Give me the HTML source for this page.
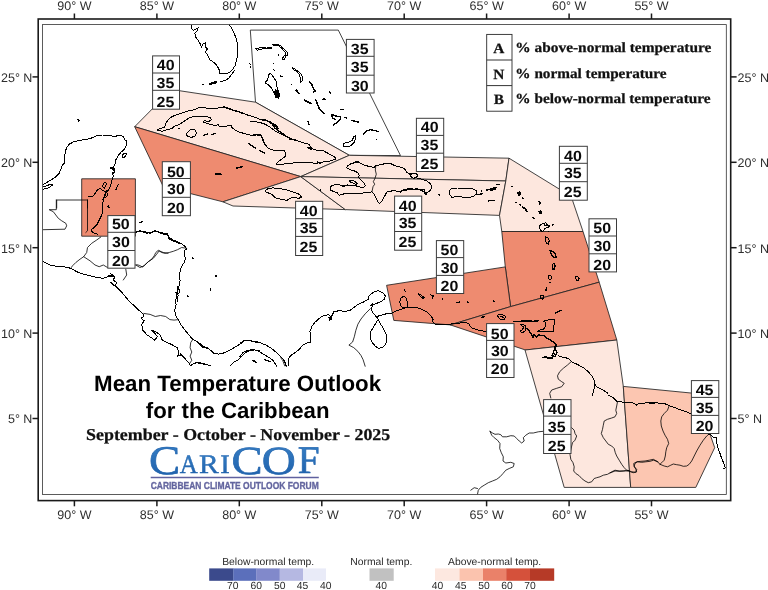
<!DOCTYPE html>
<html lang="en">
<head>
<meta charset="utf-8">
<title>Mean Temperature Outlook for the Caribbean</title>
<style>
html,body{margin:0;padding:0;background:#fff;}
body{width:768px;height:590px;overflow:hidden;}
svg{display:block;}
text{text-rendering:geometricPrecision;}
.ax{font-family:"Liberation Sans",Arial,sans-serif;font-size:12.5px;fill:#2e2e2e;}
.num{font-family:"Liberation Sans",Arial,sans-serif;font-weight:bold;fill:#0a0a0a;}
.lg{font-family:"Liberation Sans",Arial,sans-serif;font-size:10.35px;fill:#2a2a2a;}
.ser{font-family:"Liberation Serif","Times New Roman",serif;font-weight:bold;fill:#111;stroke:#111;stroke-width:0.25px;}
.ttl{font-family:"Liberation Sans",Arial,sans-serif;font-weight:bold;fill:#000;text-anchor:middle;}
.coast{shape-rendering:crispEdges;fill:none;stroke:#000;stroke-width:1;stroke-linejoin:round;stroke-linecap:round;}
.reg{stroke:#222;stroke-width:0.85;stroke-linejoin:round;}
</style>
</head>
<body>
<svg width="768" height="590" viewBox="0 0 768 590">
<rect x="0" y="0" width="768" height="590" fill="#fff"/>
<defs><clipPath id="mapclip"><rect x="42.5" y="24.6" width="683.8" height="469.8"/></clipPath></defs>
<g clip-path="url(#mapclip)">
<g class="reg">
<polygon points="250.3,30.1 338.3,30.1 400.5,155.6 349.3,155.3 255.5,102.2" fill="none"/>
<polygon points="134.7,126.7 171.5,89.5 255.5,102.2 349.3,155.3 300.7,176.6" fill="#fde7de"/>
<polygon points="134.7,126.7 300.7,176.6 222.9,201.8 163.3,186.7" fill="#ee8b70"/>
<polygon points="300.7,176.6 222.9,201.8 233,206 345.3,209.6" fill="#fde7de"/>
<polygon points="300.7,176.6 349.3,155.3 509,158.2 505.8,181" fill="#fde7de"/>
<polygon points="300.7,176.6 505.8,181 499.5,215.4 345.3,209.6" fill="#fde7de"/>
<polygon points="81.7,178.8 135.4,178.8 135.4,236.2 81.7,236.2" fill="#ee8b70"/>
<polygon points="509,158.2 559.2,189 572.5,200.3 583,231.5 501.8,231.5 499.5,215.4 505.8,181" fill="#fde7de"/>
<polygon points="501.8,231.5 583,231.5 599.2,282.2 510.6,306.6 505.3,266.9" fill="#ee8b70"/>
<polygon points="386.6,285.3 505.3,266.9 510.6,306.6 450.3,324.9 393.8,320.4" fill="#ee8b70"/>
<polygon points="450.3,324.9 510.6,306.6 599.2,282.2 616.8,340 525.5,350" fill="#ee8b70"/>
<polygon points="525,350 616.8,340 623.3,386.4 630.7,487.4 564.2,487.4" fill="#fde7de"/>
<polygon points="623.3,386.4 696,393.5 714.7,447.7 695.8,487.4 630.7,487.4" fill="#fcc6b1"/>
</g>
<g class="coast">
<path d="M192,25.3 191.3,27.7 193.3,30.7 195.8,29 198.3,27.7 196.7,31.5 194.7,33.2 195.8,37.3 198.3,40.7 200.3,44 201.3,47.3 203.3,43.7 205.3,42.7 205,46.5 207.5,49 205,52 207.5,54.8 209.7,59.8 213.3,62 217,65.7 219.2,69.8 220,73.7 225,74 229.2,72.7 232.5,69.8 235,65.7 236.7,59.8 238,52.3 237.8,45.7 236.3,39 234.2,33.2 231.7,28.2 229.2,24.8"/>
<path d="M209.2,84 212.5,82.3 215.8,81.5 217,82.7 213.3,83.7 209.7,84.5Z" fill="#000"/>
<path d="M220,81.8 224.7,80.7 228.7,78.2 231.7,74.3 234.2,70.7"/>
<path d="M202.7,84.2 203.3,84.5"/>
<path d="M255.3,48.7 257.5,50.3 261.7,49 266.7,48.7 271.7,49 271.3,47.3 266.7,47 262,47.3Z"/>
<path d="M272.5,44.8 276.7,44 280.8,45.7 284.2,49 286.7,51.5 288,54.8 285.8,55.7 284.7,59 283,59.8 282,58.7 285,54.8 285,52 281.7,48.2 278.3,45.7 274.2,45.7Z"/>
<path d="M269.2,73.7 271.3,74 274.2,78.2 276.7,82.3 277,87.3 278.3,90.7 279.7,94.8 278.3,98.2 275.8,97.3 274.2,93.2 271.7,88.2 268.3,84.8 265,82.7 267,80.7 268.3,77.3Z"/>
<path d="M275.3,89.8 278.3,90.7 279.7,94.8 278.3,98.2 275.8,97.3 274.2,93.2Z" fill="#000"/>
<path d="M292.5,67.7 295,69 298.3,71.5 301.3,74 302.5,77.3 302,81.5 300.8,82.3 300.3,78.2 299.2,74 295.8,71 293,69.3Z"/>
<path d="M278,54.7 278.7,55.2"/>
<path d="M273.7,63.5 274.2,64"/>
<path d="M273.8,69.7 274.5,70.2"/>
<path d="M280,76 282.7,76.7" stroke-width="1.2"/>
<path d="M291.5,84.7 292,85.2"/>
<path d="M296.3,89.5 299.2,93.7"/>
<path d="M304.2,99.8 308,102" stroke-width="1.2"/>
<path d="M249.8,63.8 250.3,64.3"/>
<path d="M250.2,66.8 250.7,67.3"/>
<path d="M156.7,130 160,128.7 164.7,127 165.8,123.3 168.3,119.7 171.7,116.7 176.7,114.7 181.7,113 186.7,111.3 192.5,110.3 198.3,108 203.3,107.7 208.3,108.3 215,108.7 220,107.5 224.2,106.7 228.3,108 233.3,110 238.3,111.3 243.3,113.3 248.3,115.3 253.3,116.7 256.7,118 260.8,120 265,119.7 270,121.7 274.2,124.2 278,126.7"/>
<path d="M156.7,130 159.2,130.8 162.5,131.3 165.8,130 169.2,129.2 172.5,128 175,125.8 178.3,125 182.5,122.5 185.8,120 190,117.5 194.2,116.3 200,116 205.8,116.3 210,117.5 211.7,119.7 209.2,121.3 204.2,120.8 203,122 206.7,123.3 210.8,124.7 215,125.3 218.3,124.7 219.7,126.7 223.3,127 227.5,125.8 230.8,125 232,127.5 235,130 238.3,131.7 242.5,133 246.7,134.2 251.7,135.3 256.7,135 260.3,135.3 262.5,138.3 263.3,141.7 265,145 268.3,148.3 272.5,150 278,150.3"/>
<path d="M185.8,135 187.5,132.5 190,130 193.7,129.3 195.8,130.8 196.3,133.7 194.7,136.3 191.7,137.3 188.7,136.7Z"/>
<path d="M203.3,135.3 207.5,134.2" stroke-width="1.38"/>
<path d="M212,134.7 215.3,133.3" stroke-width="1.38"/>
<path d="M248.3,143.3 251.7,145.8 255.8,148.3" stroke-width="1.4"/>
<path d="M259.2,150.3 265,153" stroke-width="1.38"/>
<path d="M215.3,173.7 220.8,174.2" stroke-width="1.62"/>
<path d="M236.7,168 242.5,166.7" stroke-width="1.38"/>
<path d="M179,128.5 179.5,128.8"/>
<path d="M223.3,107 228.3,108.3 233.3,110.3 238.3,111.7 243.3,113.7" stroke-width="1.34"/>
<path d="M259.2,119.3 265,120 270,122.5 274.2,125.3 278,128.7" stroke-width="1.34"/>
<path d="M250,121.3 255,121.7 260,122.5 265,124.2 270,127 275,130.8 280,133.7 285,135.8 290,138.3 295,140 300,141.7 305,143.3 309.2,144.2 310.8,147.5 314.2,149.7 318.3,150.3 323.3,150.8 327.5,153 331.7,155.3 335.3,157.5 335.8,159.2 332.5,160.3 328.3,161.7 323.3,162 318.3,163 313.3,163 308.3,162.7 303.3,162.3 298.3,162.7 293.3,163 288.3,163.3 283.3,164.2 278.7,164.7 276.3,164.2 278.3,161.7 282.5,158.7 285.3,156.3 285.8,153.3 284.2,150.8 280,150.3 275,150.3 270.8,149.7 267.5,147.5 265,144.2 263.3,140 262,136.7 260,134.7 256.7,134.3 253.3,135 250,135.8"/>
<path d="M259.2,119.2 266.7,120.8 271.7,123.3 275,128.3 280,131.7 285,135" stroke-width="1.38"/>
<path d="M290,139.2 296.7,140.3" stroke-width="1.34"/>
<path d="M308.3,147.5 310.8,149.2" stroke-width="1.7"/>
<path d="M317.5,162 320,163" stroke-width="1.54"/>
<path d="M304.2,100 307.5,102 311.7,103.7" stroke-width="1.38"/>
<path d="M315.8,100 317.5,104.2 319.2,108.3 322.5,111.7 324.2,113.3" stroke-width="1.46"/>
<path d="M323.3,98.3 325,99.2" stroke-width="1.34"/>
<path d="M340.8,109.2 343.3,109.7" stroke-width="1.3"/>
<path d="M331.7,114.2 335,115.8 340,116.7 340.8,118.3 338.3,120.8 335.8,123.3 333.3,125.3" stroke-width="1.34"/>
<path d="M331.7,114.2 332.5,118.3 335,119.2" stroke-width="1.3"/>
<path d="M345,117.5 346.7,118.3" stroke-width="1.3"/>
<path d="M351.7,120.3 355,121.3 358.3,122" stroke-width="1.46"/>
<path d="M343.3,144.2 345.8,142.5 349.2,142 352.5,140 353.7,136.3 355.3,135.8 355.3,139.2 354.2,142.5 350.8,145.8 346.7,146.7 343.7,146.3Z"/>
<path d="M363.3,134.2 365.8,131.3 370,129.7 374.2,130.3 378,131.7" stroke-width="1.34"/>
<path d="M308,121.7 309.2,125" stroke-width="1.2"/>
<path d="M376.5,139.5 377,140"/>
<path d="M309.2,82 311.7,84.2 313.3,88.3 315.8,91.3 313.3,92" stroke-width="1.34"/>
<path d="M329.2,92 330.8,93.3" stroke-width="1.38"/>
<path d="M291.7,84.2 292,84.7"/>
<path d="M295,90 298.3,93.3" stroke-width="1"/>
<path d="M304.2,99.7 307.5,101.7 310.8,103.3" stroke-width="1.38"/>
<path d="M322.5,99.2 325,99.7" stroke-width="1.2"/>
<path d="M340.8,109.2 343.3,109.7" stroke-width="1.2"/>
<path d="M43,184.7 47.5,182 51.7,179.7 55.8,176.7 59.2,173.3 61.3,168.3 62.5,165 65,162.5 64.7,156.7 65.3,151.7 66.7,147.5 69.2,144.2 73.3,142 79.2,140.3 85,139.7 90.8,138.3 96.7,135.8 102.5,135 109.2,135.3 114.2,136.7 120,135 123.3,136.7 125,140 127,140.8 126.7,145 124.2,149.2 120.8,152.5 118,155.8 115.8,160 115,164.2 113.3,167.5 110.8,168.3 113.3,170 115,171.7 112.5,173 113.3,175.8 112.5,178.3 111.7,181.7 110,186.7 108.3,190.8"/>
<path d="M43,187 46.7,185.8 50.3,184.2 52.5,185 50,187 46.7,188.7 43,189.2"/>
<path d="M122,155 125,153 126.7,153.7 125,156.7 123,158Z"/>
<path d="M77.5,119.2 79.2,120.3 78.7,121.7" stroke-width="1.3"/>
<path d="M105,181.7 103.3,184.2 102.5,186.7 104.2,188.3 105.8,185.8 106.3,183.3Z"/>
<path d="M88.3,196.7 90,197 93.3,195.8 95.8,192.5 97.5,189.7 100,188.3 103.3,190.8 106.7,191.7 107.5,195 105.8,197.5"/>
<path d="M56.7,208 56.7,200 87.5,200 87.5,208" stroke-width="0.8"/>
<path d="M115.8,190 117.5,185.8 118.3,184.7" stroke-width="1.2"/>
<path d="M110.8,168 114.7,168.7 113.3,170.3 115,172 112.7,173.3" stroke-width="1.34"/>
<path d="M56.3,199.7 56.3,209.7 49.2,209.7 53.3,211.7 55.8,215 58.3,218.3 61.7,220.8 65.8,223.3 66.7,225.8 65,229.2 43.3,229.7" stroke-width="0.8"/>
<path d="M87.5,199.7 87.5,230.8 85.8,232.5" stroke-width="0.8"/>
<path d="M106.7,190 105,195 103.3,200 102.5,205 103,210 101.7,215 99.2,220 96.7,225 93.3,228.3 90.8,230 93,232.7 96.7,233.7 98,235"/>
<path d="M103,200 104.2,196.7 105.8,193.3 107.5,190.8" stroke-width="1.38"/>
<path d="M107.5,206.7 108.7,205.3 109.2,207.5Z" fill="#000"/>
<path d="M135.3,232.5 140,230.8 145,231.7 150,233.3 155,230.8 160,232.5 168,233.7"/>
<path d="M100.8,237 96.7,240 91.7,243.3 87.5,247.5 86.7,252.5 83.7,256.7 80,259.2 75.8,262.5 72.5,265.8 71.3,267.5" stroke-width="0.8"/>
<path d="M83.7,256.7 90,260.8 95,265 99.2,266.7 103.3,265 107.5,267.5" stroke-width="0.8"/>
<path d="M43.3,261.7 50,265 56.7,266.3 65,267 70.8,268.3 76.7,271.7 83.3,274.2 90,275.8 96.7,277.5 103.3,278.3 108.3,276.7 111.7,275 110,273.3 115,276.7 113.3,280 116.7,282.5 115,285.8 118.3,288"/>
<path d="M123.3,280 126.7,275 125.8,269.2" stroke-width="0.8"/>
<path d="M135.8,265 140,267.5 144.2,265.8 148.3,261.7 153.3,258.3 156.7,254.2 159.2,250.8 163.3,252.5 168,253.3" stroke-width="0.8"/>
<path d="M140,222.5 141.7,221.7" stroke-width="1.34"/>
<path d="M162.5,233.7 165,234.2" stroke-width="1.46"/>
<path d="M108.3,275.8 113.3,276.7" stroke-width="1.38"/>
<path d="M135.8,232 139.2,230.8 143.3,232 147.5,233.3 151.7,232 155,230.8 159.2,232.5 163.3,233.7 167.5,235 170,238 173.3,240 177.5,241.7 180.8,243.3 183.3,245 185.8,247.5 186.7,248.7 184.2,250.8 184.7,255 185.3,259.2 184.2,262.5 182,265.8 180.3,270 179.7,275 179.5,280"/>
<path d="M168.3,238 173.3,240.8 180,243.3" stroke-width="1.54"/>
<path d="M160.8,233.3 165,234.3" stroke-width="1.46"/>
<path d="M186.7,248.3 181.7,247.5 177.5,249.7 173.3,251.3 169.2,252.5 165,253.3 161.7,252.5 158.3,250.3 155.8,252.5 154.2,255.8 151.7,259.2 148.3,261.7 145,264.7 142.5,267 139.2,265.3 136.7,264.7 135.8,265" stroke-width="0.8"/>
<path d="M140,222.7 142,221.8" stroke-width="1.38"/>
<path d="M192.7,257.7 193.3,258.7" stroke-width="1.38"/>
<path d="M187.7,296 188.3,296.7" stroke-width="1.3"/>
<path d="M215.5,275.5 216.3,276.3" stroke-width="1.46"/>
<path d="M210.2,289 210.8,290.3" stroke-width="1.38"/>
<path d="M177.5,286.7 179.2,290 180,292.5 178,293.3" stroke-width="1"/>
<path d="M110.8,282.5 112.9,284.6 116.7,287.3 121.9,292.5 127.1,298.8 132.3,304 137.5,309.2 142.8,313.4 143.8,316.5 140.7,318 144.2,320.7 141.7,324.8 142.8,330.1 146.9,334.7 151.7,338 154.7,340.1 157.4,336.7 154.7,333.2 151.7,330.1 156.3,332.1 160.5,335.3 161.5,339.4 166.3,342.2 172,344.7 177.2,347.8 178.8,352 177.6,356.1 182.4,355.5 185.5,359.3 188.7,362.4 190.7,365.9"/>
<path d="M143.8,313.4 150.1,314.4 155.3,316.5 160.5,315.5 165.7,316.5 169.9,319.6 174.1,320.1 178.2,319.6" stroke-width="0.8"/>
<path d="M180.3,280 179.3,285.2 177.2,290.4 178.2,295.6 175.5,299.8 176.1,305 174.7,310.2 175.5,315.5 178.2,319.6 180.3,323.8 183.4,328 186.6,332.1 189.7,335.9 192.8,339.4 197,341.5 200.1,343.6 204.3,346.8 208.5,348.8 211.6,350.9 213.7,353.4 218.9,354.1 225.2,352.6 230.4,349.9 235.6,346.8 240.8,343.6 243.9,340.5 249.1,340.5 255.4,341.5 260,342.6"/>
<path d="M192.8,339.4 190.7,342.6 190.1,347.8 191.8,352 190.1,356.1 191.8,360.3 189.7,363.4" stroke-width="0.8"/>
<path d="M198,342.6 202.2,346.8 208.5,348.4" stroke-width="1.34"/>
<path d="M190.7,365.5 193.9,363.4 198,362.4 202.2,363.4 206.4,364.5 210.6,365.9"/>
<path d="M230.4,365.5 233.5,362.4 237.7,360.3 241.8,356.1 245,353 249.1,350.9 254.4,349.9 260,350.5"/>
<path d="M253.3,360.3 256.4,362.4" stroke-width="1.3"/>
<path d="M210.1,289 211,290" stroke-width="1.3"/>
<path d="M187.6,295.4 188.4,296.1" stroke-width="1"/>
<path d="M176.1,292.5 177.6,300.9" stroke-width="1.34"/>
<path d="M180.3,354.1 183.4,357.2 185.5,359.3" stroke-width="1.38"/>
<path d="M198,363 203.3,363.9" stroke-width="1.34"/>
<path d="M240,343 244.2,340.9 249.4,340.5 254.6,342 260.9,343 266.1,345.1 271.3,348.2 275.5,351.8 279.6,355.5 282.8,358.7 284.8,361.8 286.3,366.4"/>
<path d="M289,366.4 288.4,361.8 289,357.6 292.1,354.5 295.3,352.4 299.4,349.3 302.6,345.1 306.8,343 310.5,342 310.9,336.8 309.9,331.5 312,326.3 315.1,322.1 319.3,318.4 323.4,315.5 328.7,314.8 331.8,318 329.3,320.1 331.8,315.9 333.9,311.7 339.1,310.7 344.3,311.3 349.5,310.7 353.7,307.5 357.9,304.4 363.1,302.3 368.3,299.2 369.3,295"/>
<path d="M240,356.6 243.1,352.4 248.3,350.3 253.6,349.3 258.8,351.4 264,354.5 269.2,357.6 273.4,360.7 276.5,366"/>
<path d="M265,359.7 270.2,361.8" stroke-width="1.38"/>
<path d="M252.9,360.3 254.2,361.4" stroke-width="1.3"/>
<path d="M280.7,357.6 282.8,360.7 284.8,366" stroke-width="0.8"/>
<path d="M370.4,308.6 365.2,313.8 361,319 357.9,324.2 355.8,330.5 354.3,336.8 352.6,342 348.9,345.1 353.7,347.6 357.9,351.4 361,355.5 363.1,359.7 365.2,366.4" stroke-width="0.8"/>
<path d="M328.7,317.6 331.4,319.6" stroke-width="1.38"/>
<path d="M370,295 374.2,291.7 378.3,290.8 382.5,292.5 385.3,295.8 384.2,299.2 380.8,301.7 376.7,303.3 372.5,305 371.3,309.2 373.3,313.3 376.3,316.7 378.3,319.2 375.8,323.3 373.3,327.5 370.8,331.7 370,336.7 371.7,341.7 375,345.8 378.3,348.3 382.5,347.5 385.8,344.2 386.7,339.2 386.3,334.2 384.2,330 381.7,325.8 379.2,321.7 378.3,319.2"/>
<path d="M376.3,316.7 381.7,315 386.7,313.7 391.7,313 396.7,310.8 402.5,308.7 407.5,307.5 413.3,307.5 418.3,308 423.3,310 427.5,312.5 430.3,315 432,318.3 432.5,321.7 435,324.2 440,324.7 445,324.7 450,324.2 455,323.3 460,323 465.8,322.5 468.3,323.3 470,325.8 472.5,328.3 476.7,329.7 481.7,330.8 485.8,331.7"/>
<path d="M402.5,308 400.3,305 399.7,301.7 400.8,298.3 403.3,296.3 405.8,297.5 407,300.8 408,304.2 407.5,307" stroke-width="1"/>
<path d="M402.5,307.3 407.5,307.3" stroke-width="1.46"/>
<path d="M404.2,290 405.3,291.3" stroke-width="1.2"/>
<path d="M418,293.3 420.8,295 424.2,297.5 423,298.3 420,296.3Z"/>
<path d="M430.8,295 433.3,295.8 432.5,298.3" stroke-width="1.2"/>
<path d="M442.3,298.5 442.8,299" stroke-width="1.3"/>
<path d="M456.7,302.5 460,302" stroke-width="1.38"/>
<path d="M467.3,301.8 468,302.3" stroke-width="1.3"/>
<path d="M493.2,300.7 493.7,301.2" stroke-width="1.3"/>
<path d="M481.7,317.5 484.2,316.7" stroke-width="1.46"/>
<path d="M432,317.5 433,320" stroke-width="1.38"/>
<path d="M372.5,303.3 370.8,305.8" stroke-width="1.3"/>
<path d="M347.5,165.8 350,164.2 355,162.5 358.3,162 360.8,163.7 365,165.3 370,166.7 374.2,167.5 375.8,165.8 380,164.7 385,163.7 390,163.3 394.2,165.3 398.3,166.7 402.5,167.5 405.3,169.7 406.7,172.5 410,174.2 411.3,173.3 415,173 417.5,175 416.7,177.5 413.3,178.3 411.3,176.7"/>
<path d="M347.5,165.8 346.7,168 350,169.7 354.2,170.8 357.5,172.5 359.2,175 358.7,177.5 361.7,180.8 364.2,183.3 365.3,185.8 363.3,187.5 360,187 355.8,185.8 351.7,185.3 347.5,185 343.7,185.8 340,185 335.8,184.7 332.5,185.3 330,187.5 330.3,190 334.2,191.7 337.5,193 339.2,195.3 341.7,194.7 344.2,193 348.3,193.7 353.3,193.7 358.3,193.3 363.3,193 368.3,192.5 372,191.7 374.2,194.2 375.8,197.5 377.5,200.8 379.2,203.7 381.7,201.7 383.3,198.3 385.3,195 386.7,192 390.8,191.3 394.2,190 397.5,191.7 401.7,190.8 404.7,189.2 410,188.7 415,189.2 420,190 424.2,191.7 428,193"/>
<path d="M349.7,180.8 352,180 355,181.7 357.5,183.7 356.7,184.7 353.3,183.3 350.3,182Z"/>
<path d="M375.8,165.8 375.3,170 376.3,174.2 375,178.3 373.3,181.7 374.7,184.2 373,186.7 372,191.7" stroke-width="0.8"/>
<path d="M355.8,161.7 358.3,162" stroke-width="1.38"/>
<path d="M342.5,185.8 344.7,186.3" stroke-width="1.38"/>
<path d="M320.2,189.5 320.7,190" stroke-width="1.2"/>
<path d="M341.7,194.7 343.7,193.7" stroke-width="1.38"/>
<path d="M265.7,190.1 268.2,188.6 272.6,187.9 277.6,188.2 282.7,189.1 287.1,189.9 291.4,191.4 295.8,192.9 299.6,194.5 301.5,197 299,198.3 295.2,197.6 291.4,197.9 288.9,198.9 286.4,200.8 284.5,199.9 281.4,199.1 277.6,198.9 274.5,197 272,194.5 268.9,193.2 266.1,192Z"/>
<path d="M416.7,178 421.7,179.2 426.7,180.8 430,183.3 431.7,186.7 430.8,190 428.3,192 425.8,193.7 424.7,192.5 425,190 421.7,189.7 416.7,188.7 411.7,189.7 406.7,190 402.5,190.8 400,192.5"/>
<path d="M425,193.7 426.7,194.2" stroke-width="1.46"/>
<path d="M439,194.5 439.7,195" stroke-width="1.38"/>
<path d="M449.7,190 452.5,188.3 457.5,188 463.3,188.3 469.2,188 473.3,189.2 476.3,190.8 476.7,193.7 474.2,195.8 470.8,197 466.7,197.5 461.7,197 456.7,196.7 452,197.3 450,195Z"/>
<path d="M478,194.7 482,193.7" stroke-width="1.46"/>
<path d="M481.5,190.7 482,191" stroke-width="1.4"/>
<path d="M486.3,190.3 490,189.2 493.3,188 496.7,187.5" stroke-width="1.46"/>
<path d="M490.8,190.3 495.8,189" stroke-width="1.4"/>
<path d="M496.7,184.7 499.2,184.2" stroke-width="1.3"/>
<path d="M488.3,200.8 494.2,200.3" stroke-width="1.46"/>
<path d="M410.3,174.7 411.7,173.7 415.3,173.3 417.5,175 416.7,177.5 413.3,178.3 411.3,176.7Z" stroke-width="1.3"/>
<path d="M511.8,186.2 512.3,186.7" stroke-width="1.2"/>
<path d="M517.5,192.5 519.7,191.7 520.8,194.7 518.7,195.8Z" fill="#000"/>
<path d="M522.3,197.8 523,198.3" stroke-width="1.4"/>
<path d="M515.7,202.3 516.2,202.8" stroke-width="1.3"/>
<path d="M519.8,204.8 520.5,205.3" stroke-width="1.4"/>
<path d="M522.5,207 525,208.7 527,211.3" stroke-width="1.54"/>
<path d="M538.7,201.3 540.3,202.5 539.7,204.2" stroke-width="1.46"/>
<path d="M538.7,211.3 540.8,210.8 542,213 540,213.7Z" fill="#000"/>
<path d="M533,217.7 533.8,218.5" stroke-width="1.54"/>
<path d="M539.7,225.8 541.3,224.2 543.7,223.7 544.7,225.8 547.5,225 550,226.3 547.5,227.5 545,228.3 543.7,230.8 541.7,231.3 540,229.2Z"/>
<path d="M543.7,223.7 545.8,222.5 546.7,224.2" stroke-width="1"/>
<path d="M548.2,231.2 548.8,231.7" stroke-width="1.38"/>
<path d="M552.3,225 553.7,224.5" stroke-width="1.2"/>
<path d="M545.8,236.7 548,238 549.2,240.8 548.3,244.2 546.7,243.3 545.3,240Z"/>
<path d="M550,250.3 553,251.7 555.3,254.2 556.3,257 554.2,257.5 552.5,255.8 550.8,253.3Z" stroke-width="1.3"/>
<path d="M553,263.3 554.7,264.7 555,268 553.3,268" stroke-width="1"/>
<path d="M552.5,264.2 554.2,263.3 555.3,265.8 554.7,269.2 553,269.7 552,266.7Z"/>
<path d="M548.7,275.8 550.3,275 551.7,277 550.8,279.7 549.2,279.7 548.3,277.5Z"/>
<path d="M549.5,282.3 550,282.8" stroke-width="1.3"/>
<path d="M546.7,288 545.8,290.8" stroke-width="1.4"/>
<path d="M540.8,295.8 543,295.3 543.7,297.5 542.5,299.2 540.8,298.7Z"/>
<path d="M575.3,277 577,275.8 579.2,278.7 578.3,280.8 576.3,280.3Z"/>
<path d="M555.8,313 558.3,311.7 560.8,310.3" stroke-width="1.46"/>
<path d="M497.5,315.3 500,314.2 503.3,315 505.8,316.7 504.2,319.2 500.8,319.7 498.7,318Z"/>
<path d="M500.8,316.7 503.3,317.3" stroke-width="1.2"/>
<path d="M480,330 483.3,331 486.7,331.7"/>
<path d="M513.3,321.7 520,321.3 526.7,320.8 533.3,321.3 538.3,320.8" stroke-width="1.38"/>
<path d="M543.3,321.3 548.3,320 554.2,319 554.5,322.5 553.7,326.7 553.7,331 550,331.7 545.8,331.3 542,331 538.7,332 537.5,331.3 540.8,329.7 544.7,328.7 545.3,325 545,322 543.3,321.3"/>
<path d="M520,325 523,324.2 525.3,325.8 525.8,329.2 524.7,331.7 521.7,332.5 520,330.8 522.5,329.7 523.7,327 521.7,325.8"/>
<path d="M526.7,328.3 528.3,330 530.8,333.3 533,337.5 534.2,334.2 536.7,337.5 538.7,334.2 540.8,335.8 544.2,335.8 546.7,338 550,340 553.3,341.7 555.8,343.7 556.7,346.7" stroke-width="1.34"/>
<path d="M555.3,345.8 554.7,349.2 553.3,352.5 555.3,355 557,353 555.8,350 555.3,347.5Z" stroke-width="1.38"/>
<path d="M553.3,353 552,355.8 555,356.3" stroke-width="1.38"/>
<path d="M542.5,357.5 545.8,357 549.2,358.3 552.5,357.7" stroke-width="1.62"/>
<path d="M558.3,355.8 563.3,357.5 568.3,358.3 571.7,361.7 575.8,363.7 580,365.8 584.2,368.3 588.3,371.7 591.7,375.8 594.2,380 595,384.2 596.7,386.7 600,388.3 604.2,390.8 608,393.3"/>
<path d="M570.8,362 567.5,365 563.3,368.3 559.7,371.7 557.5,375.8 558.3,379.2 561.7,381.7 564.2,383.3 561.7,386.7 556.7,388.3 551.7,390 549.7,393.3 550.8,398" stroke-width="0.8"/>
<path d="M595,384.2 594.2,388.3 593,393.3 592,395.8" stroke-width="1"/>
<path d="M493.3,300.7 494,301.2" stroke-width="1.3"/>
<path d="M571.7,427.7 574.2,430.2 575,433.5 576.7,436 575,440.2 572.5,442.7 571.7,446 570.8,450.2 570,454.3 570.8,459.3 573,462.7 574.2,466.8 573.7,471 575.8,473.5 579.2,475.7 581.7,478.5 585,481 588.3,482.7 591.7,481.8 594.2,478.5 596.7,477.7 600,476.8 603.3,475.2 607.5,474.3 611.7,471.8 615,470.2 619.2,471 623.3,471 626.7,470.7 628.3,470.5" stroke-width="0.8"/>
<path d="M617.5,401.8 616.7,406 615.8,410.2 616.7,413.5 615,416.8 611.7,418 607.5,419.3 604.2,421 603.3,425.2 602.5,429.3 601.3,433.5 603.3,437.7 605.8,441 608.3,444.3 611.7,446 614.2,448.5 615.3,452.7 616.7,456 619.2,460.2 621.7,464.3 624.2,467.7 626.7,470.2 628.3,470.5" stroke-width="0.8"/>
<path d="M608.7,395.3 613.3,397.7 615.8,400.2 617.5,401.8 620.8,401.8 626.7,402.7 633.3,403 636.7,405.2 638.3,403.5 645,403 651.7,402.7 658,403"/>
<path d="M628.3,470.5 631.7,471.8 635.8,472.3 636.7,469.3 634.2,466.8 633.7,463.5 636.7,461.8 640.8,461.3 645,461 649.2,460.2 653.3,459.3 658,461.8" stroke-width="0.8"/>
<path d="M658,403 663.3,403 669.2,405.7 675,407.7 680,409.7 685,411.3 689.2,413 691.3,414.3"/>
<path d="M649.2,403.2 654.2,403.5" stroke-width="1.46"/>
<path d="M669.2,405.7 667.5,410.2 664.2,413.5 661.7,416.8 660.8,421 661.3,426 663,431 665,435.2 667.5,439.3 668.7,443.5 666.7,447.7 665.8,451.8 665.3,456 664.2,460.2 661.7,462.7 660,464.3" stroke-width="0.8"/>
<path d="M708.3,434.7 706.7,436 703.3,440.2 700,445.2 696.7,451 694.2,456 691.7,461 689.2,464.3 686.7,466 683.3,466.3 680,465.2 676.7,464.7 673.3,464 670.8,465.2 667.5,466.8 664.2,466 660,464.3" stroke-width="0.8"/>
<path d="M660,464.3 657.5,461.8 653.7,460.2 650,461.3 645.8,461.8 641.7,462.3 637.5,461.8 635,463.5 634.2,466 635.8,469.3 636.7,471.8 633.3,472.7 629.2,471.3 625.8,470.7 620,471.3 615,471 610,473" stroke-width="0.8"/>
<path d="M708.3,434.7 710.8,434.7 712.5,436.8 715,437.7 716.3,437.3 716.7,442.7 718,447.7 720,453.5 722,459.3 724.2,464.3 725.3,467.7 723.3,469"/>
<path d="M490,431.3 492.5,433 495,434.3 498.3,434 500.8,434.7 502.5,436.8 506.7,436.8 510.8,435.7 514.2,436 516.7,438.5 519.2,441 521.7,443 524.2,441 523.3,437.7 525.8,435.2 529.2,433 533.3,433 538.3,431.8 543.3,431.3" stroke-width="0.8"/>
<path d="M490,431.3 491.7,435.2 494.2,437.7 497.5,440.2 500,443.5 499.7,448.5 501.3,452.7 503.3,456.8 503,461 505.8,463 510.8,462.3 514.2,463.5 513.3,466.8 509.2,468.5 505.8,470.2 503,473.5 500,476.8 496.7,479.3 492.5,481 488.3,482.7 484.2,485.2 480.8,487.3 478.3,490.2 477.5,494.3" stroke-width="0.8"/>
<path d="M470.8,490.2 474.2,487.7 477.5,488.5" stroke-width="0.8"/>
</g>
<rect x="43" y="366.8" width="427" height="127.4" fill="#fff"/>
</g>
<rect x="38.2" y="19" width="692.5" height="481.6" fill="none" stroke="#1a1a1a" stroke-width="1.6"/>
<rect x="42.5" y="24.6" width="683.8" height="469.8" fill="none" stroke="#333" stroke-width="0.8"/>
<g stroke="#1a1a1a" stroke-width="1.5">
<line x1="74.4" y1="13.5" x2="74.4" y2="19"/><line x1="74.4" y1="500.6" x2="74.4" y2="506.3"/>
<line x1="156.9" y1="13.5" x2="156.9" y2="19"/><line x1="156.9" y1="500.6" x2="156.9" y2="506.3"/>
<line x1="239.3" y1="13.5" x2="239.3" y2="19"/><line x1="239.3" y1="500.6" x2="239.3" y2="506.3"/>
<line x1="321.8" y1="13.5" x2="321.8" y2="19"/><line x1="321.8" y1="500.6" x2="321.8" y2="506.3"/>
<line x1="404.2" y1="13.5" x2="404.2" y2="19"/><line x1="404.2" y1="500.6" x2="404.2" y2="506.3"/>
<line x1="486.6" y1="13.5" x2="486.6" y2="19"/><line x1="486.6" y1="500.6" x2="486.6" y2="506.3"/>
<line x1="569.1" y1="13.5" x2="569.1" y2="19"/><line x1="569.1" y1="500.6" x2="569.1" y2="506.3"/>
<line x1="651.5" y1="13.5" x2="651.5" y2="19"/><line x1="651.5" y1="500.6" x2="651.5" y2="506.3"/>
<line x1="32.5" y1="76.9" x2="38.2" y2="76.9"/><line x1="730.7" y1="76.9" x2="736.6" y2="76.9"/>
<line x1="32.5" y1="162.3" x2="38.2" y2="162.3"/><line x1="730.7" y1="162.3" x2="736.6" y2="162.3"/>
<line x1="32.5" y1="247.7" x2="38.2" y2="247.7"/><line x1="730.7" y1="247.7" x2="736.6" y2="247.7"/>
<line x1="32.5" y1="333.1" x2="38.2" y2="333.1"/><line x1="730.7" y1="333.1" x2="736.6" y2="333.1"/>
<line x1="32.5" y1="418.5" x2="38.2" y2="418.5"/><line x1="730.7" y1="418.5" x2="736.6" y2="418.5"/>
</g>
<g class="ax">
<text x="74.4" y="9.9" text-anchor="middle">90° W</text><text x="74.4" y="519.3" text-anchor="middle">90° W</text>
<text x="156.9" y="9.9" text-anchor="middle">85° W</text><text x="156.9" y="519.3" text-anchor="middle">85° W</text>
<text x="239.3" y="9.9" text-anchor="middle">80° W</text><text x="239.3" y="519.3" text-anchor="middle">80° W</text>
<text x="321.8" y="9.9" text-anchor="middle">75° W</text><text x="321.8" y="519.3" text-anchor="middle">75° W</text>
<text x="404.2" y="9.9" text-anchor="middle">70° W</text><text x="404.2" y="519.3" text-anchor="middle">70° W</text>
<text x="486.6" y="9.9" text-anchor="middle">65° W</text><text x="486.6" y="519.3" text-anchor="middle">65° W</text>
<text x="569.1" y="9.9" text-anchor="middle">60° W</text><text x="569.1" y="519.3" text-anchor="middle">60° W</text>
<text x="651.5" y="9.9" text-anchor="middle">55° W</text><text x="651.5" y="519.3" text-anchor="middle">55° W</text>
<text x="32.4" y="81.7" text-anchor="end">25° N</text><text x="737.6" y="81.7">25° N</text>
<text x="32.4" y="167.1" text-anchor="end">20° N</text><text x="737.6" y="167.1">20° N</text>
<text x="32.4" y="252.5" text-anchor="end">15° N</text><text x="737.6" y="252.5">15° N</text>
<text x="32.4" y="337.9" text-anchor="end">10° N</text><text x="737.6" y="337.9">10° N</text>
<text x="32.4" y="423.3" text-anchor="end">5° N</text><text x="737.6" y="423.3">5° N</text>
</g>
<g>
<rect x="152.6" y="55.9" width="26.9" height="53.3" fill="#fff" stroke="#3c3c3c" stroke-width="1"/><line x1="152.6" y1="73" x2="179.5" y2="73" stroke="#3c3c3c" stroke-width="1"/><line x1="152.6" y1="90.3" x2="179.5" y2="90.3" stroke="#3c3c3c" stroke-width="1"/><text x="156.77" y="70.1" font-size="14.8" textLength="17.78" lengthAdjust="spacingAndGlyphs" class="num">40</text><text x="156.60" y="88.4" font-size="14.8" textLength="17.78" lengthAdjust="spacingAndGlyphs" class="num">35</text><text x="156.51" y="107" font-size="14.8" textLength="17.78" lengthAdjust="spacingAndGlyphs" class="num">25</text>
<rect x="346.4" y="39.4" width="27.7" height="53.6" fill="#fff" stroke="#3c3c3c" stroke-width="1"/><line x1="346.4" y1="56.3" x2="374.1" y2="56.3" stroke="#3c3c3c" stroke-width="1"/><line x1="346.4" y1="75.2" x2="374.1" y2="75.2" stroke="#3c3c3c" stroke-width="1"/><text x="350.80" y="54.2" font-size="14.8" textLength="17.78" lengthAdjust="spacingAndGlyphs" class="num">35</text><text x="350.80" y="72.2" font-size="14.8" textLength="17.78" lengthAdjust="spacingAndGlyphs" class="num">35</text><text x="350.90" y="90.5" font-size="14.8" textLength="17.78" lengthAdjust="spacingAndGlyphs" class="num">30</text>
<rect x="162.3" y="161.7" width="28.1" height="54" fill="#fff" stroke="#3c3c3c" stroke-width="1"/><line x1="162.3" y1="178.5" x2="190.4" y2="178.5" stroke="#3c3c3c" stroke-width="1"/><line x1="162.3" y1="197.3" x2="190.4" y2="197.3" stroke="#3c3c3c" stroke-width="1"/><text x="166.94" y="176.8" font-size="14.8" textLength="17.78" lengthAdjust="spacingAndGlyphs" class="num">50</text><text x="167.00" y="193.8" font-size="14.8" textLength="17.78" lengthAdjust="spacingAndGlyphs" class="num">30</text><text x="166.91" y="212.7" font-size="14.8" textLength="17.78" lengthAdjust="spacingAndGlyphs" class="num">20</text>
<rect x="107.8" y="215.6" width="27.2" height="52.6" fill="#fff" stroke="#3c3c3c" stroke-width="1"/><line x1="107.8" y1="232.3" x2="135" y2="232.3" stroke="#3c3c3c" stroke-width="1"/><line x1="107.8" y1="250.5" x2="135" y2="250.5" stroke="#3c3c3c" stroke-width="1"/><text x="111.99" y="229.4" font-size="14.8" textLength="17.78" lengthAdjust="spacingAndGlyphs" class="num">50</text><text x="112.05" y="247.2" font-size="14.8" textLength="17.78" lengthAdjust="spacingAndGlyphs" class="num">30</text><text x="111.96" y="265.8" font-size="14.8" textLength="17.78" lengthAdjust="spacingAndGlyphs" class="num">20</text>
<rect x="295.6" y="201.3" width="27.1" height="54.2" fill="#fff" stroke="#3c3c3c" stroke-width="1"/><line x1="295.6" y1="218.7" x2="322.7" y2="218.7" stroke="#3c3c3c" stroke-width="1"/><line x1="295.6" y1="236.4" x2="322.7" y2="236.4" stroke="#3c3c3c" stroke-width="1"/><text x="299.87" y="215.9" font-size="14.8" textLength="17.78" lengthAdjust="spacingAndGlyphs" class="num">40</text><text x="299.70" y="233.2" font-size="14.8" textLength="17.78" lengthAdjust="spacingAndGlyphs" class="num">35</text><text x="299.61" y="252" font-size="14.8" textLength="17.78" lengthAdjust="spacingAndGlyphs" class="num">25</text>
<rect x="394.6" y="196.1" width="27.1" height="54.1" fill="#fff" stroke="#3c3c3c" stroke-width="1"/><line x1="394.6" y1="213.4" x2="421.7" y2="213.4" stroke="#3c3c3c" stroke-width="1"/><line x1="394.6" y1="231.5" x2="421.7" y2="231.5" stroke="#3c3c3c" stroke-width="1"/><text x="398.87" y="210.9" font-size="14.8" textLength="17.78" lengthAdjust="spacingAndGlyphs" class="num">40</text><text x="398.70" y="228.2" font-size="14.8" textLength="17.78" lengthAdjust="spacingAndGlyphs" class="num">35</text><text x="398.61" y="246.8" font-size="14.8" textLength="17.78" lengthAdjust="spacingAndGlyphs" class="num">25</text>
<rect x="416.4" y="118.3" width="27.3" height="53.2" fill="#fff" stroke="#3c3c3c" stroke-width="1"/><line x1="416.4" y1="135.4" x2="443.7" y2="135.4" stroke="#3c3c3c" stroke-width="1"/><line x1="416.4" y1="153.2" x2="443.7" y2="153.2" stroke="#3c3c3c" stroke-width="1"/><text x="420.77" y="132.4" font-size="14.8" textLength="17.78" lengthAdjust="spacingAndGlyphs" class="num">40</text><text x="420.60" y="149.9" font-size="14.8" textLength="17.78" lengthAdjust="spacingAndGlyphs" class="num">35</text><text x="420.51" y="168.5" font-size="14.8" textLength="17.78" lengthAdjust="spacingAndGlyphs" class="num">25</text>
<rect x="559.4" y="146.3" width="27.9" height="53.9" fill="#fff" stroke="#3c3c3c" stroke-width="1"/><line x1="559.4" y1="163.3" x2="587.3" y2="163.3" stroke="#3c3c3c" stroke-width="1"/><line x1="559.4" y1="181.7" x2="587.3" y2="181.7" stroke="#3c3c3c" stroke-width="1"/><text x="564.07" y="161.2" font-size="14.8" textLength="17.78" lengthAdjust="spacingAndGlyphs" class="num">40</text><text x="563.90" y="178.2" font-size="14.8" textLength="17.78" lengthAdjust="spacingAndGlyphs" class="num">35</text><text x="563.81" y="197" font-size="14.8" textLength="17.78" lengthAdjust="spacingAndGlyphs" class="num">25</text>
<rect x="589" y="218.8" width="27.5" height="53.1" fill="#fff" stroke="#3c3c3c" stroke-width="1"/><line x1="589" y1="236" x2="616.5" y2="236" stroke="#3c3c3c" stroke-width="1"/><line x1="589" y1="253.8" x2="616.5" y2="253.8" stroke="#3c3c3c" stroke-width="1"/><text x="593.37" y="232.9" font-size="14.8" textLength="17.78" lengthAdjust="spacingAndGlyphs" class="num">50</text><text x="593.43" y="250.7" font-size="14.8" textLength="17.78" lengthAdjust="spacingAndGlyphs" class="num">30</text><text x="593.34" y="269.5" font-size="14.8" textLength="17.78" lengthAdjust="spacingAndGlyphs" class="num">20</text>
<rect x="436.4" y="240.6" width="27.3" height="52.9" fill="#fff" stroke="#3c3c3c" stroke-width="1"/><line x1="436.4" y1="257.6" x2="463.7" y2="257.6" stroke="#3c3c3c" stroke-width="1"/><line x1="436.4" y1="275.4" x2="463.7" y2="275.4" stroke="#3c3c3c" stroke-width="1"/><text x="440.64" y="254.6" font-size="14.8" textLength="17.78" lengthAdjust="spacingAndGlyphs" class="num">50</text><text x="440.70" y="272.5" font-size="14.8" textLength="17.78" lengthAdjust="spacingAndGlyphs" class="num">30</text><text x="440.61" y="290.8" font-size="14.8" textLength="17.78" lengthAdjust="spacingAndGlyphs" class="num">20</text>
<rect x="486.6" y="323.6" width="27.4" height="53.9" fill="#fff" stroke="#3c3c3c" stroke-width="1"/><line x1="486.6" y1="340.4" x2="514" y2="340.4" stroke="#3c3c3c" stroke-width="1"/><line x1="486.6" y1="359.2" x2="514" y2="359.2" stroke="#3c3c3c" stroke-width="1"/><text x="490.89" y="338.6" font-size="14.8" textLength="17.78" lengthAdjust="spacingAndGlyphs" class="num">50</text><text x="490.95" y="355.7" font-size="14.8" textLength="17.78" lengthAdjust="spacingAndGlyphs" class="num">30</text><text x="490.86" y="374" font-size="14.8" textLength="17.78" lengthAdjust="spacingAndGlyphs" class="num">20</text>
<rect x="543.6" y="399.6" width="27.4" height="53.9" fill="#fff" stroke="#3c3c3c" stroke-width="1"/><line x1="543.6" y1="416.1" x2="571" y2="416.1" stroke="#3c3c3c" stroke-width="1"/><line x1="543.6" y1="434.4" x2="571" y2="434.4" stroke="#3c3c3c" stroke-width="1"/><text x="548.02" y="413.9" font-size="14.8" textLength="17.78" lengthAdjust="spacingAndGlyphs" class="num">40</text><text x="547.85" y="431.7" font-size="14.8" textLength="17.78" lengthAdjust="spacingAndGlyphs" class="num">35</text><text x="547.76" y="450.5" font-size="14.8" textLength="17.78" lengthAdjust="spacingAndGlyphs" class="num">25</text>
<rect x="691.4" y="380.6" width="27.4" height="52.9" fill="#fff" stroke="#3c3c3c" stroke-width="1"/><line x1="691.4" y1="397.4" x2="718.8" y2="397.4" stroke="#3c3c3c" stroke-width="1"/><line x1="691.4" y1="415.4" x2="718.8" y2="415.4" stroke="#3c3c3c" stroke-width="1"/><text x="695.71" y="394.9" font-size="14.8" textLength="17.78" lengthAdjust="spacingAndGlyphs" class="num">45</text><text x="695.65" y="412.7" font-size="14.8" textLength="17.78" lengthAdjust="spacingAndGlyphs" class="num">35</text><text x="695.66" y="431" font-size="14.8" textLength="17.78" lengthAdjust="spacingAndGlyphs" class="num">20</text>
</g>
<g>
<rect x="486.7" y="34.4" width="25.3" height="76.8" fill="#fff" stroke="#2a2a2a" stroke-width="0.9"/><line x1="486.7" y1="60" x2="512.0" y2="60" stroke="#333" stroke-width="1"/><line x1="486.7" y1="85.6" x2="512.0" y2="85.6" stroke="#333" stroke-width="1"/>
<text x="493.34" y="53.3" font-size="14.2" textLength="11.08" lengthAdjust="spacingAndGlyphs" class="ser">A</text><text x="515.33" y="51.7" font-size="14.1" textLength="196.07" lengthAdjust="spacingAndGlyphs" class="ser">% above-normal temperature</text>
<text x="493.32" y="79.3" font-size="14.2" textLength="11.08" lengthAdjust="spacingAndGlyphs" class="ser">N</text><text x="515.34" y="77.7" font-size="14.1" textLength="151.25" lengthAdjust="spacingAndGlyphs" class="ser">% normal temperature</text>
<text x="493.87" y="104.4" font-size="14.2" textLength="10.23" lengthAdjust="spacingAndGlyphs" class="ser">B</text><text x="515.33" y="102.8" font-size="14.1" textLength="195.26" lengthAdjust="spacingAndGlyphs" class="ser">% below-normal temperature</text>
</g>
<text class="ttl" font-size="22.3" x="237.6" y="390.8">Mean Temperature Outlook</text>
<text class="ttl" font-size="22.2" x="237.6" y="418.4">for the Caribbean</text>
<text x="86.05" y="440.4" font-size="16.6" textLength="304.20" lengthAdjust="spacingAndGlyphs" class="ser">September - October - November - 2025</text>
<defs><linearGradient id="lgb" x1="0" y1="0" x2="0" y2="1"><stop offset="0" stop-color="#3a84ca"/><stop offset="1" stop-color="#1b5ba6"/></linearGradient></defs>
<g font-family="'Liberation Serif','Times New Roman',serif" font-size="100" fill="url(#lgb)" stroke="#2467b0" stroke-width="1.6" stroke-linejoin="round"><text transform="matrix(0.4678 0 0 0.4063 149.08 473.6)">C</text><text transform="matrix(0.2489 0 0 0.2651 179.81 473.1)">A</text><text transform="matrix(0.2953 0 0 0.2673 199.05 473.1)">R</text><text transform="matrix(0.2866 0 0 0.2673 220.26 473.1)">I</text><text transform="matrix(0.466 0 0 0.3989 231.49 473.61)">C</text><text transform="matrix(0.4718 0 0 0.3989 261.86 473.61)">O</text><text transform="matrix(0.3929 0 0 0.391 297.67 473.1)">F</text></g><line x1="150.7" y1="477.4" x2="318.8" y2="477.4" stroke="#5f619f" stroke-width="1.5"/>
<text x="150.7" y="488.7" font-family="'Liberation Sans',Arial,sans-serif" font-weight="bold" font-size="10.2" fill="#63659f" stroke="#63659f" stroke-width="0.35" textLength="168" lengthAdjust="spacingAndGlyphs">CARIBBEAN CLIMATE OUTLOOK FORUM</text>
<g>
<rect x="209.2" y="568.4" width="24.3" height="12.4" fill="#3b4a8c"/><rect x="233.3" y="568.4" width="23.1" height="12.4" fill="#5b6fbb"/><rect x="256.2" y="568.4" width="23.7" height="12.4" fill="#8189cb"/><rect x="279.7" y="568.4" width="23.5" height="12.4" fill="#b5b8e2"/><rect x="303" y="568.4" width="23" height="12.4" fill="#e9ebf8"/>
<rect x="369.5" y="568.4" width="24.2" height="12.4" fill="#c1c1c1"/>
<rect x="435" y="568.4" width="24.7" height="12.4" fill="#fde8e0"/><rect x="459.5" y="568.4" width="23.7" height="12.4" fill="#fbc3ae"/><rect x="483" y="568.4" width="23.4" height="12.4" fill="#ea8169"/><rect x="506.2" y="568.4" width="24" height="12.4" fill="#d5513b"/><rect x="530" y="568.4" width="24.2" height="12.4" fill="#b63a27"/>
<g class="lg" text-anchor="middle">
<text x="268.2" y="564.6">Below-normal temp.</text><text x="381.3" y="564.6">Normal temp.</text><text x="494.6" y="564.6">Above-normal temp.</text>
<text x="232.8" y="589.2" font-size="10.3">70</text><text x="256.2" y="589.2" font-size="10.3">60</text><text x="279.7" y="589.2" font-size="10.3">50</text><text x="302.5" y="589.2" font-size="10.3">45</text><text x="325.8" y="589.2" font-size="10.3">40</text><text x="381.3" y="589.2" font-size="10.3">40</text><text x="437.5" y="589.2" font-size="10.3">40</text><text x="460.8" y="589.2" font-size="10.3">45</text><text x="484" y="589.2" font-size="10.3">50</text><text x="507" y="589.2" font-size="10.3">60</text><text x="530" y="589.2" font-size="10.3">70</text>
</g>
</g>
</svg>
</body>
</html>
